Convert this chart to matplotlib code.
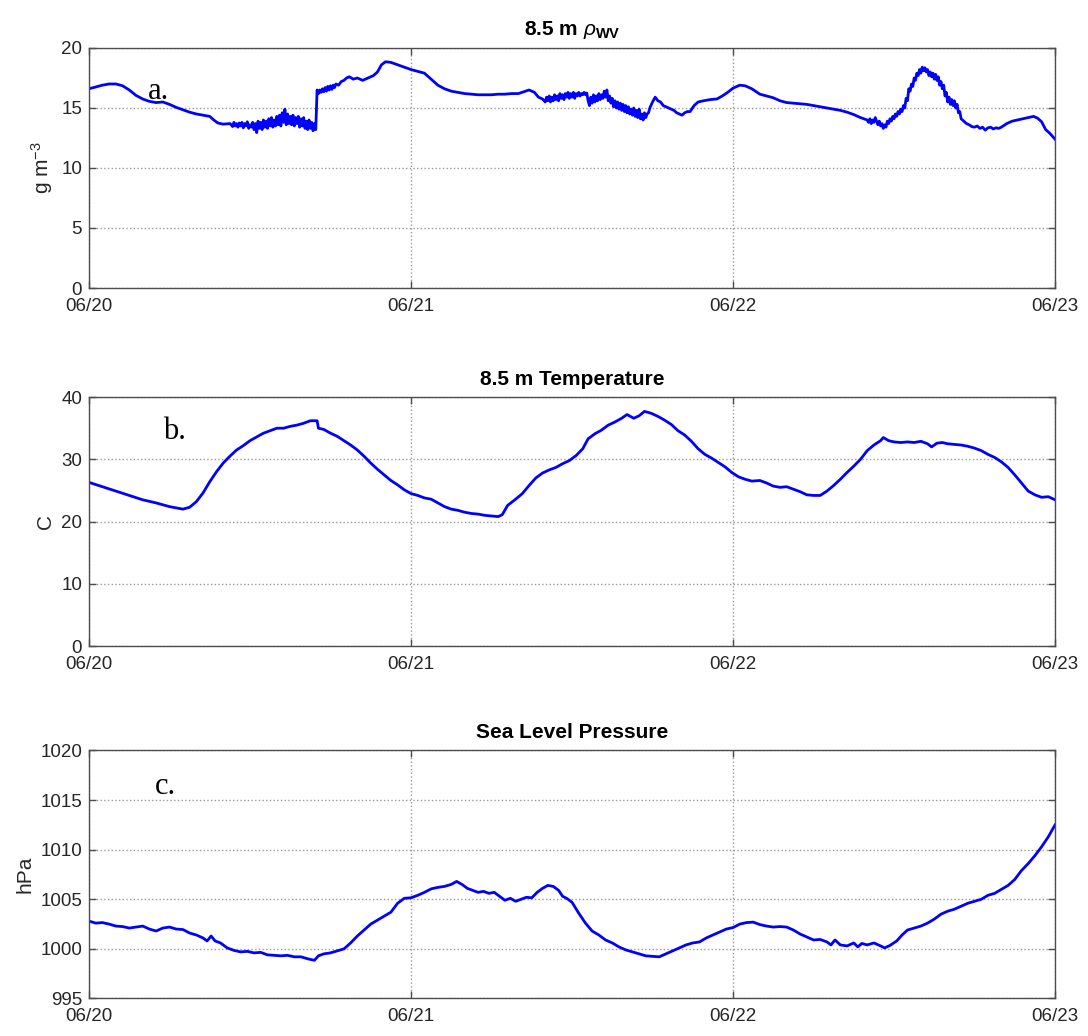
import matplotlib
matplotlib.use("Agg")
import matplotlib.pyplot as plt
import numpy as np

plt.rcParams['font.family'] = ['Liberation Sans', 'DejaVu Sans']
plt.rcParams['mathtext.fontset'] = 'custom'
plt.rcParams['mathtext.rm'] = 'Liberation Sans'
plt.rcParams['mathtext.it'] = 'Liberation Sans:italic'
plt.rcParams['mathtext.bf'] = 'Liberation Sans:bold'

# time axis is hours since 06/20 00:00
day_ticks = [0, 24, 48, 72]
day_labels = ['06/20', '06/21', '06/22', '06/23']

# 8.5 m water vapour density, (hour, g m-3)
rho_wv = [
    (0, 16.6), (0.5, 16.75), (1, 16.9), (1.5, 17.0), (2, 17.0), (2.5, 16.85), (3, 16.5), (3.5, 16.05),
    (4, 15.75), (4.5, 15.55), (5, 15.45), (5.5, 15.5), (6, 15.3), (6.5, 15.05), (7, 14.85), (7.5, 14.65),
    (8, 14.5), (8.5, 14.4), (9, 14.3), (9.3, 14.0), (9.6, 13.75), (10, 13.65), (10.5, 13.7),
    # noisy stretch before the step
    (10.6, 13.6), (10.7, 13.45), (10.8, 13.8), (10.9, 13.5), (11.0, 13.7), (11.1, 13.4), (11.2, 13.75),
    (11.3, 13.5), (11.4, 13.8), (11.5, 13.35), (11.6, 13.7), (11.7, 13.5), (11.8, 13.85), (11.9, 13.3),
    (12.0, 13.6), (12.1, 13.4), (12.2, 13.8), (12.3, 13.2), (12.4, 13.7), (12.5, 12.95), (12.6, 13.9),
    (12.7, 13.3), (12.8, 13.8), (12.9, 13.2), (13.0, 14.0), (13.1, 13.4), (13.2, 13.9), (13.3, 13.3),
    (13.4, 14.1), (13.5, 13.5), (13.6, 14.2), (13.7, 13.4), (13.8, 14.0), (13.9, 13.5), (14.0, 14.3),
    (14.1, 13.6), (14.2, 14.4), (14.3, 13.5), (14.4, 14.6), (14.5, 13.8), (14.6, 14.9), (14.7, 13.6),
    (14.8, 14.5), (14.9, 13.7), (15.0, 14.3), (15.1, 13.6), (15.2, 14.4), (15.3, 13.5), (15.4, 14.2),
    (15.5, 13.7), (15.6, 14.3), (15.7, 13.4), (15.8, 14.1), (15.9, 13.5), (16.0, 14.2), (16.1, 13.3),
    (16.2, 13.9), (16.3, 13.2), (16.4, 14.0), (16.5, 13.3), (16.6, 13.8), (16.7, 13.1), (16.8, 13.7),
    (16.9, 13.2),
    # step up
    (17.0, 16.5), (17.1, 16.2), (17.2, 16.5), (17.3, 16.3), (17.4, 16.6), (17.5, 16.35), (17.6, 16.7),
    (17.7, 16.4), (17.8, 16.8), (17.9, 16.5), (18.0, 16.85), (18.1, 16.55), (18.2, 16.9), (18.3, 16.7),
    (18.4, 17.0), (18.6, 16.9), (18.8, 17.2), (19.0, 17.3), (19.2, 17.5), (19.4, 17.6), (19.7, 17.4),
    (20.0, 17.5), (20.4, 17.3), (20.8, 17.5), (21.2, 17.7), (21.5, 18.0), (21.8, 18.6), (22.1, 18.85),
    (22.5, 18.8), (23.0, 18.6), (23.5, 18.4), (24.0, 18.2), (24.5, 18.05), (25.0, 17.9), (25.5, 17.4),
    (26.0, 16.9), (26.5, 16.6), (27.0, 16.4), (27.5, 16.3), (28.0, 16.2), (28.5, 16.15), (29.0, 16.1),
    (29.5, 16.1), (30.0, 16.1), (30.5, 16.15), (31.0, 16.15), (31.5, 16.2), (32.0, 16.2), (32.4, 16.35),
    (32.8, 16.5), (33.2, 16.3), (33.5, 15.9), (33.8, 15.75),
    # noisy afternoon of 06/21
    (34.0, 15.5), (34.1, 15.9), (34.2, 15.6), (34.3, 16.0), (34.4, 15.5), (34.5, 15.9), (34.6, 15.6),
    (34.7, 16.1), (34.8, 15.7), (34.9, 16.0), (35.0, 15.6), (35.1, 16.2), (35.2, 15.8), (35.3, 16.1),
    (35.4, 15.7), (35.5, 16.2), (35.6, 15.9), (35.7, 16.3), (35.8, 15.8), (35.9, 16.2), (36.0, 15.9),
    (36.1, 16.3), (36.2, 15.8), (36.3, 16.2), (36.4, 16.0), (36.5, 16.3), (36.6, 16.0), (36.7, 16.2),
    (36.8, 16.1), (36.9, 16.3), (37.0, 16.1), (37.1, 16.25), (37.2, 15.6), (37.3, 15.2), (37.4, 15.9),
    (37.5, 15.4), (37.6, 16.1), (37.7, 15.5), (37.8, 16.0), (37.9, 15.6), (38.0, 16.2), (38.1, 15.7),
    (38.2, 16.1), (38.3, 15.8), (38.4, 16.4), (38.5, 15.9), (38.6, 16.5), (38.7, 15.6), (38.8, 16.0),
    (38.9, 15.4), (39.0, 15.8), (39.1, 15.1), (39.2, 15.6), (39.3, 15.0), (39.4, 15.5), (39.5, 14.9),
    (39.6, 15.4), (39.7, 14.8), (39.8, 15.3), (39.9, 14.7), (40.0, 15.2), (40.1, 14.6), (40.2, 15.1),
    (40.3, 14.5), (40.4, 14.9), (40.5, 14.4), (40.6, 15.0), (40.7, 14.3), (40.8, 14.8), (40.9, 14.2),
    (41.0, 14.9), (41.1, 14.1), (41.2, 14.5), (41.3, 14.0), (41.4, 14.6), (41.5, 14.2), (41.6, 14.5),
    (41.7, 14.6), (41.8, 15.0), (42.0, 15.5), (42.2, 15.9), (42.4, 15.6), (42.6, 15.5), (42.8, 15.2),
    (43.0, 15.1), (43.2, 15.0), (43.4, 14.9), (43.6, 14.8), (43.8, 14.6), (44.0, 14.5), (44.2, 14.4),
    (44.4, 14.6), (44.6, 14.7), (44.8, 14.7), (45.1, 15.2), (45.4, 15.5), (45.8, 15.6), (46.3, 15.7),
    (46.8, 15.75), (47.2, 16.0), (47.6, 16.3), (48.0, 16.65), (48.5, 16.9), (48.9, 16.85), (49.4, 16.6),
    (50.0, 16.15), (50.5, 16.0), (51.0, 15.85), (51.5, 15.6), (52.0, 15.45), (52.5, 15.4), (53.0, 15.35),
    (53.5, 15.3), (54.0, 15.2), (54.5, 15.1), (55.0, 15.0), (55.5, 14.9), (56.0, 14.8), (56.5, 14.65),
    (57.0, 14.45), (57.5, 14.2),
    # noisy rise and peak on 06/22
    (58.0, 14.0), (58.1, 13.8), (58.2, 14.1), (58.3, 13.7), (58.4, 14.0), (58.5, 13.8), (58.6, 14.2),
    (58.7, 13.9), (58.8, 13.6), (58.9, 13.9), (59.0, 13.5), (59.1, 13.7), (59.2, 13.3), (59.3, 13.6),
    (59.4, 13.4), (59.5, 13.9), (59.6, 13.7), (59.7, 14.1), (59.8, 13.9), (59.9, 14.3), (60.0, 14.1),
    (60.1, 14.5), (60.2, 14.3), (60.3, 14.7), (60.4, 14.5), (60.5, 14.9), (60.6, 14.7), (60.7, 15.2),
    (60.8, 15.0), (60.9, 15.8), (61.0, 15.6), (61.1, 16.6), (61.2, 16.4), (61.3, 17.0), (61.4, 16.8),
    (61.5, 17.5), (61.6, 17.3), (61.7, 17.9), (61.8, 17.7), (61.9, 18.2), (62.0, 17.9), (62.1, 18.4),
    (62.2, 18.1), (62.3, 18.35), (62.4, 18.0), (62.5, 18.2), (62.6, 17.7), (62.7, 18.0), (62.8, 17.6),
    (62.9, 17.9), (63.0, 17.4), (63.1, 17.8), (63.2, 17.3), (63.3, 17.6), (63.4, 16.9), (63.5, 17.2),
    (63.6, 16.6), (63.7, 16.9), (63.8, 16.0), (63.9, 16.3), (64.0, 15.5), (64.1, 15.9), (64.2, 15.3),
    (64.3, 15.7), (64.4, 15.2), (64.5, 15.6), (64.6, 15.0), (64.7, 15.3), (64.8, 14.6), (64.9, 14.7),
    (65.0, 14.1), (65.2, 13.9), (65.4, 13.7), (65.6, 13.6), (65.8, 13.45), (66.0, 13.4), (66.2, 13.5),
    (66.4, 13.3), (66.6, 13.4), (66.8, 13.15), (67.0, 13.35), (67.2, 13.4), (67.4, 13.25), (67.6, 13.35),
    (67.8, 13.3), (68.0, 13.4), (68.4, 13.7), (68.8, 13.9), (69.2, 14.0), (69.6, 14.1), (70.0, 14.2),
    (70.4, 14.3), (70.7, 14.15), (71.0, 13.85), (71.3, 13.2), (71.6, 12.9), (72.0, 12.4),
]

# 8.5 m air temperature, (hour, C)
temperature = [
    (0, 26.3), (1, 25.6), (2, 24.9), (3, 24.2), (4, 23.5), (5, 23.0), (6, 22.4), (7, 22.0), (7.5, 22.3),
    (8, 23.2), (8.5, 24.6), (9, 26.4), (9.5, 28.0), (10, 29.4), (10.5, 30.5), (11, 31.5), (11.5, 32.2),
    (12, 33.0), (12.5, 33.6), (13, 34.2), (13.5, 34.6), (14, 35.0), (14.5, 35.0), (15, 35.3), (15.5, 35.5),
    (16, 35.8), (16.5, 36.2), (17.0, 36.2), (17.1, 35.0), (17.5, 34.8), (18, 34.2), (18.5, 33.7),
    (19, 33.0), (19.5, 32.3), (20, 31.5), (20.5, 30.5), (21, 29.4), (21.5, 28.4), (22, 27.5), (22.5, 26.6),
    (23, 25.9), (23.5, 25.1), (24, 24.5), (24.5, 24.2), (25, 23.8), (25.5, 23.6), (26, 23.0), (26.5, 22.4),
    (27, 22.0), (27.5, 21.8), (28, 21.5), (28.5, 21.3), (29, 21.2), (29.5, 21.0), (30, 20.9), (30.5, 20.8),
    (30.8, 21.1), (31.2, 22.6), (31.8, 23.6), (32.3, 24.5), (32.8, 25.8), (33.3, 27.0), (33.8, 27.8),
    (34.3, 28.3), (34.8, 28.7), (35.3, 29.3), (35.8, 29.8), (36.3, 30.6), (36.8, 31.7), (37.2, 33.3),
    (37.7, 34.1), (38.2, 34.7), (38.7, 35.5), (39.2, 36.0), (39.7, 36.6), (40.1, 37.2), (40.6, 36.6),
    (41.0, 37.0), (41.4, 37.7), (41.9, 37.4), (42.4, 36.9), (42.9, 36.3), (43.4, 35.6), (43.9, 34.6),
    (44.4, 33.9), (44.9, 32.9), (45.4, 31.7), (45.9, 30.8), (46.4, 30.2), (46.9, 29.5), (47.4, 28.8),
    (47.9, 27.9), (48.4, 27.2), (48.9, 26.8), (49.4, 26.5), (50.0, 26.6), (50.5, 26.2), (51.0, 25.7),
    (51.5, 25.5), (52.0, 25.6), (52.5, 25.2), (53.0, 24.8), (53.5, 24.3), (54.0, 24.2), (54.5, 24.2),
    (55.0, 24.9), (55.5, 25.8), (56.0, 26.8), (56.5, 27.9), (57.0, 28.9), (57.5, 30.0), (58.0, 31.4),
    (58.5, 32.3), (59.0, 33.0), (59.2, 33.5), (59.6, 33.0), (60.0, 32.8), (60.5, 32.7), (61.0, 32.8),
    (61.5, 32.7), (62.0, 32.9), (62.5, 32.5), (62.8, 32.0), (63.2, 32.6), (63.6, 32.7), (64.0, 32.5),
    (64.5, 32.4), (65.0, 32.3), (65.5, 32.1), (66.0, 31.8), (66.5, 31.4), (67.0, 30.8), (67.5, 30.3),
    (68.0, 29.6), (68.5, 28.7), (69.0, 27.5), (69.5, 26.2), (70.0, 24.9), (70.5, 24.3), (71.0, 23.9),
    (71.5, 24.0), (72.0, 23.5),
]

# sea level pressure, (hour, hPa)
pressure = [
    (0, 1002.8), (0.5, 1002.6), (1, 1002.65), (1.5, 1002.5), (2, 1002.3), (2.5, 1002.25), (3, 1002.1),
    (3.5, 1002.2), (4, 1002.3), (4.5, 1002.0), (5, 1001.8), (5.5, 1002.1), (6, 1002.2), (6.5, 1002.0),
    (7, 1001.95), (7.5, 1001.6), (8, 1001.4), (8.5, 1001.1), (8.8, 1000.8), (9.1, 1001.3), (9.4, 1000.8),
    (9.8, 1000.6), (10.3, 1000.1), (10.8, 999.85), (11.3, 999.7), (11.8, 999.75), (12.3, 999.6),
    (12.8, 999.65), (13.3, 999.4), (13.8, 999.35), (14.3, 999.3), (14.8, 999.35), (15.3, 999.2),
    (15.8, 999.2), (16.3, 999.0), (16.8, 998.85), (17.1, 999.3), (17.5, 999.5), (18.0, 999.6),
    (18.5, 999.8), (19.0, 1000.0), (19.5, 1000.6), (20.0, 1001.3), (20.5, 1001.9), (21.0, 1002.5),
    (21.5, 1002.9), (22.0, 1003.3), (22.5, 1003.7), (23.0, 1004.6), (23.5, 1005.1), (24.0, 1005.15),
    (24.5, 1005.4), (25.0, 1005.7), (25.5, 1006.05), (26.0, 1006.2), (26.5, 1006.3), (27.0, 1006.5),
    (27.4, 1006.8), (27.8, 1006.5), (28.2, 1006.1), (28.6, 1005.9), (29.0, 1005.7), (29.4, 1005.8),
    (29.8, 1005.6), (30.2, 1005.7), (30.6, 1005.3), (31.0, 1004.9), (31.4, 1005.1), (31.8, 1004.8),
    (32.2, 1005.0), (32.6, 1005.2), (33.0, 1005.15), (33.4, 1005.7), (33.8, 1006.1), (34.2, 1006.4),
    (34.6, 1006.3), (35.0, 1005.9), (35.3, 1005.3), (35.6, 1005.1), (36.0, 1004.7), (36.5, 1003.6),
    (37.0, 1002.6), (37.5, 1001.8), (38.0, 1001.4), (38.5, 1000.9), (39.0, 1000.6), (39.5, 1000.2),
    (40.0, 999.9), (40.5, 999.7), (41.0, 999.5), (41.5, 999.3), (42.0, 999.25), (42.5, 999.2),
    (43.0, 999.5), (43.5, 999.8), (44.0, 1000.1), (44.5, 1000.4), (45.0, 1000.6), (45.5, 1000.7),
    (46.0, 1001.1), (46.5, 1001.4), (47.0, 1001.7), (47.5, 1002.0), (48.0, 1002.15), (48.5, 1002.5),
    (49.0, 1002.65), (49.5, 1002.7), (50.0, 1002.45), (50.5, 1002.3), (51.0, 1002.2), (51.5, 1002.25),
    (52.0, 1002.2), (52.5, 1001.9), (53.0, 1001.5), (53.5, 1001.2), (54.0, 1000.9), (54.5, 1000.95),
    (55.0, 1000.7), (55.3, 1000.4), (55.6, 1000.9), (56.0, 1000.4), (56.5, 1000.3), (57.0, 1000.6),
    (57.3, 1000.2), (57.6, 1000.55), (58.0, 1000.4), (58.5, 1000.6), (59.0, 1000.3), (59.3, 1000.1),
    (59.7, 1000.35), (60.2, 1000.8), (60.6, 1001.4), (61.0, 1001.9), (61.5, 1002.1), (62.0, 1002.3),
    (62.5, 1002.6), (63.0, 1003.0), (63.5, 1003.5), (64.0, 1003.8), (64.5, 1004.0), (65.0, 1004.3),
    (65.5, 1004.6), (66.0, 1004.8), (66.5, 1005.0), (67.0, 1005.4), (67.5, 1005.6), (68.0, 1006.0),
    (68.5, 1006.4), (69.0, 1007.0), (69.5, 1007.9), (70.0, 1008.6), (70.5, 1009.4), (71.0, 1010.3),
    (71.5, 1011.3), (72.0, 1012.5),
]

fig = plt.figure(figsize=(10.88, 10.36), dpi=100)

panels = [
    dict(pos=[0.0818, 0.7220, 0.8879, 0.2317], data=rho_wv, ylim=(0, 20),
         yticks=np.arange(0, 21, 5), title=r'8.5 m $\rho_{\mathbf{WV}}$', ylabel=r'g m$^{-3}$',
         letter='a.', lx=4.4, ly=15.75),
    dict(pos=[0.0818, 0.3764, 0.8879, 0.2403], data=temperature, ylim=(0, 40),
         yticks=np.arange(0, 41, 10), title='8.5 m Temperature', ylabel='C',
         letter='b.', lx=5.5, ly=33.3),
    dict(pos=[0.0818, 0.0362, 0.8879, 0.2394], data=pressure, ylim=(995, 1020),
         yticks=np.arange(995, 1021, 5), title='Sea Level Pressure', ylabel='hPa',
         letter='c.', lx=4.9, ly=1015.6),
]

for p in panels:
    ax = fig.add_axes(p['pos'])
    t, y = zip(*p['data'])
    ax.plot(t, y, color=(0, 0, 1), linewidth=2.0)

    ax.set_xlim(0, 72)
    ax.set_ylim(*p['ylim'])
    ax.set_xticks(day_ticks)
    ax.set_xticklabels(day_labels)
    ax.set_yticks(p['yticks'])

    # boxed axes, inward ticks on all four sides
    for axis in ['top', 'bottom', 'left', 'right']:
        ax.spines[axis].set_linewidth(1.0)
        ax.spines[axis].set_color('#4d4d4d')
    ax.tick_params(axis='both', direction='in', length=5, width=1, color='#4d4d4d',
                   labelsize=13.5, labelcolor='#262626', top=True, right=True)
    ax.tick_params(axis='x', pad=7)
    ax.tick_params(axis='y', pad=5)
    ax.grid(True, linestyle=':', color='#9a9a9a', linewidth=1.0)
    ax.set_axisbelow(True)

    ax.set_title(p['title'], fontsize=15, fontweight='bold', pad=9)
    ax.set_ylabel(p['ylabel'], fontsize=15, color='#262626')
    ax.text(p['lx'], p['ly'], p['letter'], fontsize=22, family=['Liberation Serif', 'DejaVu Serif'])

plt.savefig('out.png', dpi=100)
